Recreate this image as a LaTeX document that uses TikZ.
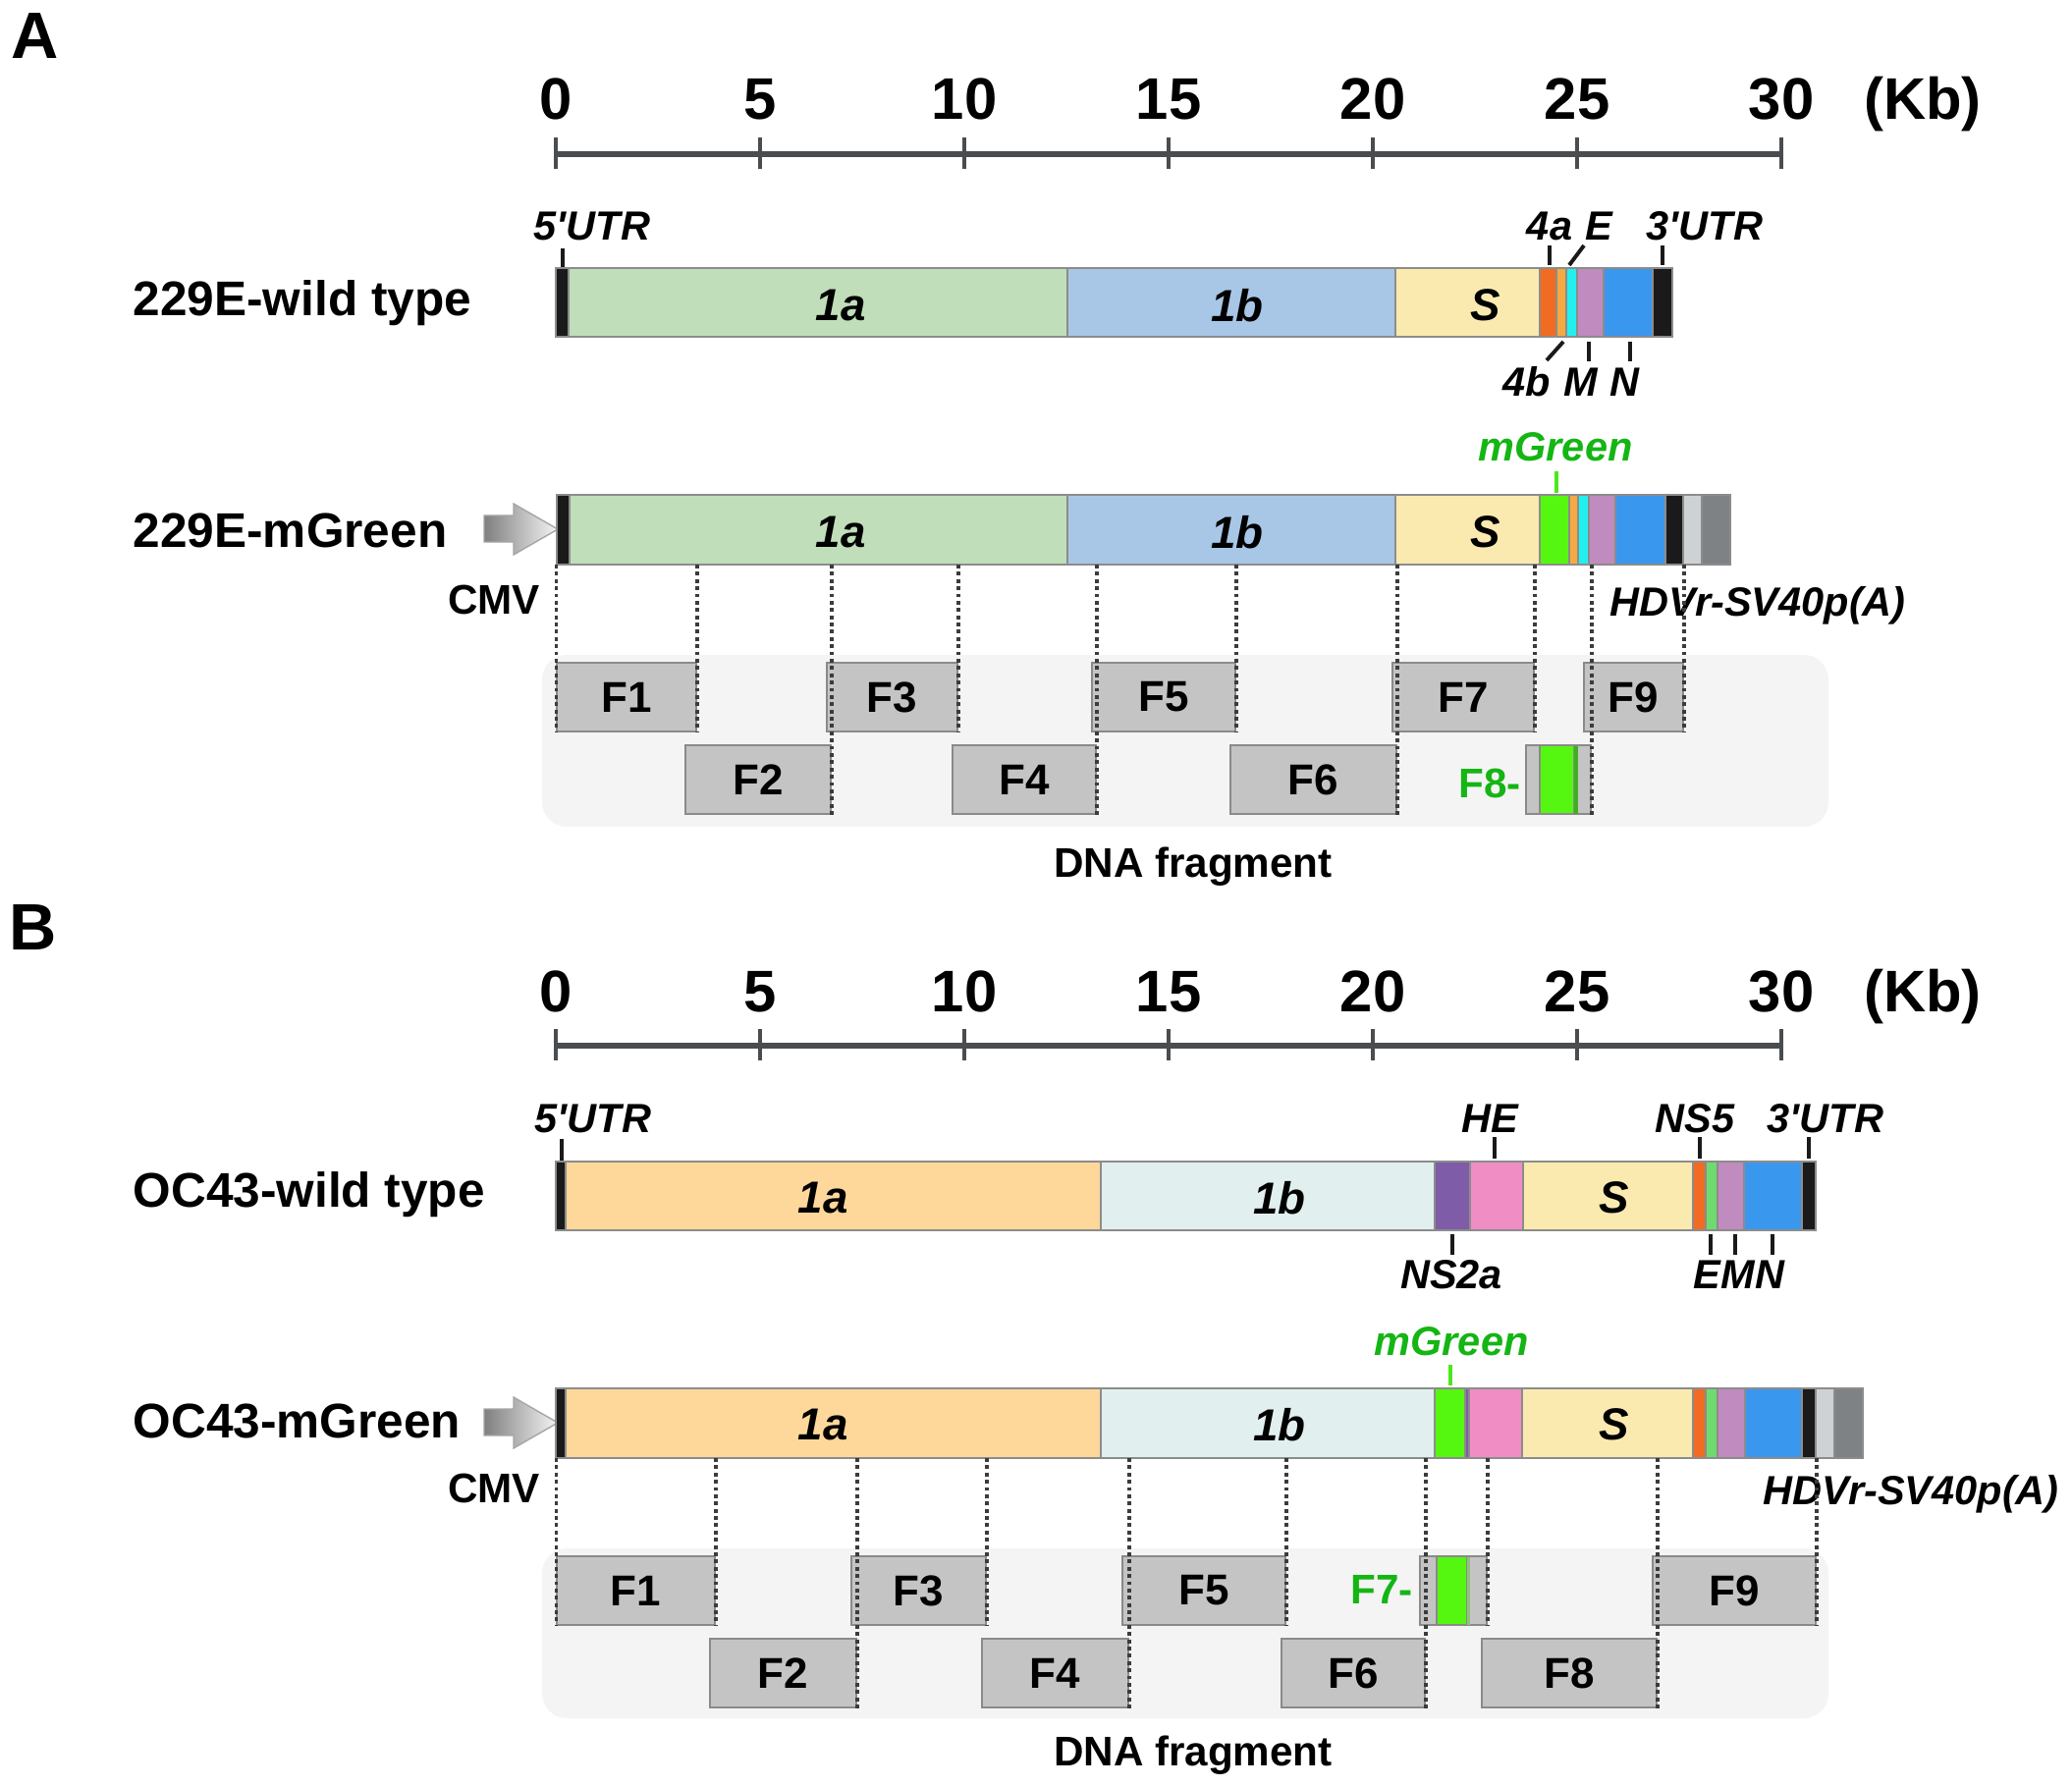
\documentclass[tikz,border=0pt]{standalone}
\usepackage{fontspec}
\setmainfont{Liberation Sans}
\definecolor{utr}{HTML}{1A1A1A}
\definecolor{orfa}{HTML}{BFDEB9}
\definecolor{orfb}{HTML}{A8C6E6}
\definecolor{spike}{HTML}{FBEAB0}
\definecolor{orfo}{HTML}{F26B22}
\definecolor{orfl}{HTML}{F5A940}
\definecolor{envc}{HTML}{22F0EE}
\definecolor{memb}{HTML}{C08BBE}
\definecolor{nucl}{HTML}{3A97EE}
\definecolor{mgrn}{HTML}{55F710}
\definecolor{hdvr}{HTML}{CFD2D4}
\definecolor{sv40}{HTML}{7F8285}
\definecolor{ocorfa}{HTML}{FED89A}
\definecolor{ocorfb}{HTML}{E1F0EE}
\definecolor{nstwo}{HTML}{7E5CA7}
\definecolor{hemag}{HTML}{EF8DC4}
\definecolor{enve}{HTML}{6FDB6F}
\definecolor{txtgreen}{HTML}{14B514}
\definecolor{tickgreen}{HTML}{4DE81A}
\definecolor{axisc}{HTML}{4A4D50}
\definecolor{segline}{HTML}{8C8C8C}
\definecolor{frag}{HTML}{C4C4C4}
\definecolor{fragline}{HTML}{8A8A8A}
\definecolor{fragbg}{HTML}{F4F4F4}
\definecolor{stripa}{HTML}{3DB022}
\definecolor{stripb}{HTML}{8CC47A}
\tikzset{
  seg/.style={draw=segline, line width=0.5pt},
  panellab/.style={font=\fontsize{19}{21}\selectfont\bfseries, inner sep=0pt},
  numlab/.style={font=\fontsize{17}{18}\selectfont\bfseries, inner sep=0pt, anchor=base},
  namelab/.style={font=\fontsize{14.1}{16}\selectfont\bfseries, inner sep=0pt, anchor=west},
  genelab/.style={font=\fontsize{13}{15}\selectfont\bfseries\itshape, inner sep=0pt},
  sitelab/.style={font=\fontsize{11.8}{13}\selectfont\bfseries\itshape, inner sep=0pt, anchor=base},
  plainlab/.style={font=\fontsize{12}{13}\selectfont\bfseries, inner sep=0pt, anchor=base},
  fragbox/.style={draw=fragline, fill=frag, line width=0.5pt, minimum height=0.7cm, inner sep=0pt,
    font=\fontsize{12.5}{14}\selectfont\bfseries},
  labtick/.style={draw=utr, line width=1.1pt},
  gtick/.style={draw=tickgreen, line width=1.1pt},
  dline/.style={draw=utr!85, line width=0.9pt, dash pattern=on 1.1pt off 1pt},
  axisline/.style={draw=axisc, line width=1.7pt},
  cmvarrow/.style={left color=black!50, right color=black!4, draw=black!35, line width=0.4pt}
}
\begin{document}
\begin{tikzpicture}[x=0.01cm, y=-0.01cm]
\useasboundingbox (0,0) rectangle (2110,1819);

\node[panellab] (pA) at (36,37) {A};
\draw[axisline] (566,157) -- (1814,157);
\foreach \k/\v in {0/0,1/5,2/10,3/15,4/20,5/25,6/30} {
  \draw[axisline, line width=1.4pt] (566+208*\k,140) -- (566+208*\k,172);
  \node[numlab] (sA\k) at (566+208*\k,122) {\v};
}
\node[numlab] (kbA) at (1958,122) {(Kb)};

\node[namelab] (nAw) at (135,309) {229E-wild type};
\foreach \xa/\xb/\c in {566/579/utr, 579/1087/orfa, 1087/1421/orfb, 1421/1568/spike, 1568/1585/orfo,
    1585/1595/orfl, 1595/1606/envc, 1606/1633/memb, 1633/1683/nucl, 1683/1703/utr}
  \filldraw[seg, fill=\c] (\xa,273) rectangle (\xb,343);
\node[genelab] (wA1a) at (856,311) {1a};
\node[genelab] (wA1b) at (1260,311) {1b};
\node[genelab] (wAS) at (1513,311) {S};
\node[sitelab] (uA5) at (603,245) {5\textquotesingle UTR};
\node[sitelab] (gA4a) at (1578,245) {4a};
\node[sitelab] (gAE) at (1628,245) {E};
\node[sitelab] (uA3) at (1736,245) {3\textquotesingle UTR};
\node[sitelab] (gA4b) at (1555,404) {4b};
\node[sitelab] (gAM) at (1610,404) {M};
\node[sitelab] (gAN) at (1654,404) {N};
\draw[labtick] (uA5.base) ++(-30,8) -- ++(0,19);
\draw[labtick] (gA4a.base) ++(0,5) -- ++(0,20);
\draw[labtick] (gAE.base) ++(-15,5) -- ++(-15,20);
\draw[labtick] (uA3.base) ++(-43,5) -- ++(0,20);
\draw[labtick] (gA4b.base) ++(37,-56) -- ++(-17,19);
\draw[labtick] (gAM.base) ++(8,-56) -- ++(0,20);
\draw[labtick] (gAN.base) ++(6,-56) -- ++(0,20);

\node[namelab] (nAm) at (135,540) {229E-mGreen};
\shade[cmvarrow] (493,525) -- (523,525) -- (523,513) -- (568,539) -- (523,565) -- (523,552) -- (493,552) -- cycle;
\foreach \xa/\xb/\c in {567/580/utr, 580/1087/orfa, 1087/1421/orfb, 1421/1568/spike, 1568/1598/mgrn,
    1598/1607/orfl, 1607/1618/envc, 1618/1645/memb, 1645/1696/nucl, 1696/1714/utr, 1714/1733/hdvr, 1733/1762/sv40}
  \filldraw[seg, fill=\c] (\xa,504) rectangle (\xb,575);
\coordinate (mA) at (566,575);
\node[genelab] (mA1a) at (856,542) {1a};
\node[genelab] (mA1b) at (1260,542) {1b};
\node[genelab] (mAS) at (1513,542) {S};
\node[sitelab, text=txtgreen] (gAg) at (1584,470) {mGreen};
\draw[gtick] (gAg.base) ++(1,10) -- ++(0,22);
\node[plainlab] (cA) at (503,625) {CMV};
\node[sitelab] (hA) at (1790,627) {HDVr-SV40p(A)};

\fill[fragbg, rounded corners=0.25cm] (552,667) rectangle (1862,842);
\node[fragbox, minimum width=1.42cm] (fA1) at (638,710) {F1};
\node[fragbox, minimum width=1.48cm] (fA2) at (772,794) {F2};
\node[fragbox, minimum width=1.33cm] (fA3) at (908.5,710) {F3};
\node[fragbox, minimum width=1.46cm] (fA4) at (1043,794) {F4};
\node[fragbox, minimum width=1.46cm] (fA5) at (1185,710) {F5};
\node[fragbox, minimum width=1.69cm] (fA6) at (1337.5,794) {F6};
\node[fragbox, minimum width=1.44cm] (fA7) at (1490,710) {F7};
\node[fragbox, minimum width=0.66cm] (fA8) at (1587,794) {};
\node[fragbox, minimum width=1.01cm] (fA9) at (1663.5,710) {F9};
\filldraw[fill=mgrn, draw=fragline, line width=0.4pt] (1568,759) rectangle (1603,829);
\fill[stripa] (1603,759.5) rectangle (1607,828.5);
\node[plainlab, text=txtgreen] (lA8) at (1517,812) {F8-};
\draw[dline] (fA1.south west |- mA) -- (fA1.south west);
\foreach \f in {fA1,fA2,fA3,fA4,fA5,fA6,fA7,fA8,fA9}
  \draw[dline] (\f.south east |- mA) -- (\f.south east);
\node[plainlab] (dA) at (1215,893) {DNA fragment};

\node[panellab] (pB) at (34,945) {B};
\draw[axisline] (566,1065) -- (1814,1065);
\foreach \k/\v in {0/0,1/5,2/10,3/15,4/20,5/25,6/30} {
  \draw[axisline, line width=1.4pt] (566+208*\k,1048) -- (566+208*\k,1080);
  \node[numlab] (sB\k) at (566+208*\k,1030) {\v};
}
\node[numlab] (kbB) at (1958,1030) {(Kb)};

\node[namelab] (nBw) at (135,1217) {OC43-wild type};
\foreach \xa/\xb/\c in {566/576/utr, 576/1121/ocorfa, 1121/1461/ocorfb, 1461/1497/nstwo, 1497/1551/hemag,
    1551/1724/spike, 1724/1737/orfo, 1737/1749/enve, 1749/1776/memb, 1776/1835/nucl, 1835/1849/utr}
  \filldraw[seg, fill=\c] (\xa,1183) rectangle (\xb,1253);
\node[genelab] (wB1a) at (838,1220) {1a};
\node[genelab] (wB1b) at (1303,1220) {1b};
\node[genelab] (wBS) at (1644,1220) {S};
\node[sitelab] (uB5) at (604,1153) {5\textquotesingle UTR};
\node[sitelab] (gBHE) at (1517,1153) {HE};
\node[sitelab] (gBNS5) at (1726,1153) {NS5};
\node[sitelab] (uB3) at (1859,1153) {3\textquotesingle UTR};
\node[sitelab] (gBNS2a) at (1478,1312) {NS2a};
\node[sitelab] (gBEMN) at (1771,1312) {EMN};
\draw[labtick] (uB5.base) ++(-32,7) -- ++(0,22);
\draw[labtick] (gBHE.base) ++(5,5) -- ++(0,22);
\draw[labtick] (gBNS5.base) ++(5,5) -- ++(0,22);
\draw[labtick] (uB3.base) ++(-17,5) -- ++(0,22);
\draw[labtick] (gBNS2a.base) ++(1,-55) -- ++(0,21);
\draw[labtick] (gBEMN.base) ++(-29,-55) -- ++(0,21);
\draw[labtick] (gBEMN.base) ++(-4,-55) -- ++(0,21);
\draw[labtick] (gBEMN.base) ++(34,-55) -- ++(0,21);

\node[namelab] (nBm) at (135,1447) {OC43-mGreen};
\shade[cmvarrow] (493,1435) -- (523,1435) -- (523,1423) -- (568,1449) -- (523,1475) -- (523,1462) -- (493,1462) -- cycle;
\foreach \xa/\xb/\c in {566/576/utr, 576/1121/ocorfa, 1121/1461/ocorfb, 1461/1492/mgrn, 1492/1496/nstwo,
    1496/1550/hemag, 1550/1724/spike, 1724/1737/orfo, 1737/1749/enve, 1749/1777/memb, 1777/1835/nucl,
    1835/1849/utr, 1849/1868/hdvr, 1868/1897/sv40}
  \filldraw[seg, fill=\c] (\xa,1414) rectangle (\xb,1485);
\coordinate (mB) at (566,1485);
\node[genelab] (mB1a) at (838,1451) {1a};
\node[genelab] (mB1b) at (1303,1451) {1b};
\node[genelab] (mBS) at (1644,1451) {S};
\node[sitelab, text=txtgreen] (gBg) at (1478,1380) {mGreen};
\draw[gtick] (gBg.base) ++(-1,10) -- ++(0,21);
\node[plainlab] (cB) at (503,1530) {CMV};
\node[sitelab] (hB) at (1946,1532) {HDVr-SV40p(A)};

\fill[fragbg, rounded corners=0.25cm] (552,1577) rectangle (1862,1750);
\node[fragbox, minimum width=1.61cm] (fB1) at (647.5,1620) {F1};
\node[fragbox, minimum width=1.49cm] (fB2) at (797.5,1704) {F2};
\node[fragbox, minimum width=1.37cm] (fB3) at (935.5,1620) {F3};
\node[fragbox, minimum width=1.49cm] (fB4) at (1074.5,1704) {F4};
\node[fragbox, minimum width=1.66cm] (fB5) at (1226,1620) {F5};
\node[fragbox, minimum width=1.46cm] (fB6) at (1378,1704) {F6};
\node[fragbox, minimum width=0.68cm] (fB7) at (1480,1620) {};
\node[fragbox, minimum width=1.78cm] (fB8) at (1598,1704) {F8};
\node[fragbox, minimum width=1.66cm] (fB9) at (1766,1620) {F9};
\filldraw[fill=mgrn, draw=fragline, line width=0.4pt] (1463,1585) rectangle (1493.5,1655);
\fill[stripb] (1493.5,1585.5) rectangle (1497,1654.5);
\node[plainlab, text=txtgreen] (lB7) at (1407,1633) {F7-};
\draw[dline] (fB1.south west |- mB) -- (fB1.south west);
\foreach \f in {fB1,fB2,fB3,fB4,fB5,fB6,fB7,fB8,fB9}
  \draw[dline] (\f.south east |- mB) -- (\f.south east);
\node[plainlab] (dB) at (1215,1798) {DNA fragment};
\end{tikzpicture}
\end{document}
